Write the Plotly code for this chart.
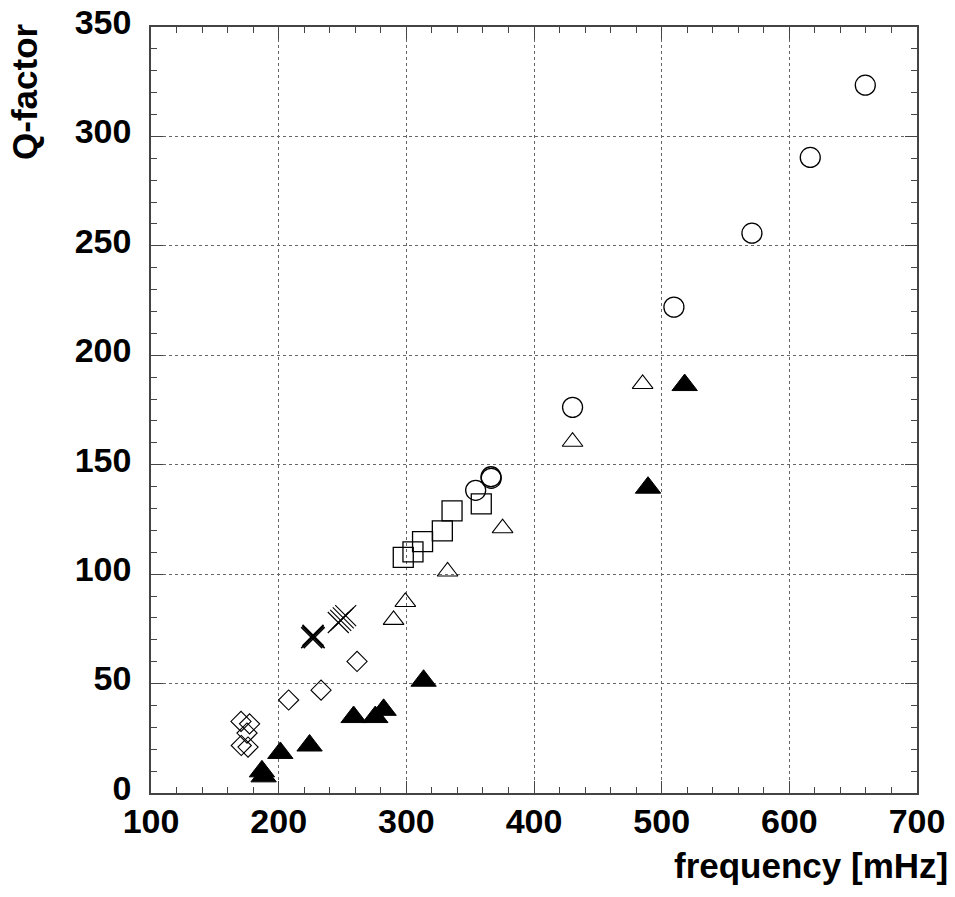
import plotly.graph_objects as go

# ---- data ----
circ_x = [659.5, 616.4, 570.7, 509.6, 430.2, 366.3, 366.5, 354.3]
circ_y = [323.4, 290.4, 255.8, 222.0, 176.2, 144.5, 143.8, 138.3]

sq_x = [358.7, 335.8, 328.2, 312.7, 305.2, 297.6]
sq_y = [132.1, 128.9, 119.8, 114.9, 110.2, 107.7]

otri_x = [485.1, 430.2, 375.4, 332.3, 299.2, 290.0]
otri_y = [186.9, 160.5, 121.0, 101.2, 87.3, 79.1]

ftri_x = [518.0, 489.3, 313.5, 282.2, 275.7, 258.7, 224.2, 201.3, 186.9, 188.2]
ftri_y = [186.4, 139.5, 51.3, 38.0, 34.7, 34.7, 21.7, 18.3, 9.9, 7.6]

dia_x = [261.4, 233.2, 207.8, 170.5, 177.2, 175.2, 170.7, 176.0]
dia_y = [60.1, 47.0, 42.5, 32.7, 31.6, 27.4, 21.7, 21.0]

xb_x = [225.9, 226.9, 227.8, 226.9]
xb_y = [71.0, 71.5, 71.0, 72.0]

xh_x = [246.7, 248.6, 250.6, 252.5]
xh_y = [77.9, 78.9, 80.0, 81.0]

x_ticks = [100, 200, 300, 400, 500, 600, 700]
y_ticks = [0, 50, 100, 150, 200, 250, 300, 350]

x_title = "frequency [mHz]"
y_title = "Q-factor"

FONT = "Liberation Sans"
BLACK = "#000000"

fig = go.Figure()

def add(xs, ys, symbol, size, lw=1.2, fill=None):
    marker = dict(symbol=symbol, size=size, line=dict(color=BLACK, width=lw))
    marker["color"] = fill if fill is not None else BLACK
    fig.add_trace(go.Scatter(x=xs, y=ys, mode="markers", marker=marker,
                             showlegend=False, hoverinfo="x+y"))

add(circ_x, circ_y, "circle-open", 20, 1.3)
add(sq_x, sq_y, "square-open", 20, 1.3)
add(otri_x, otri_y, "triangle-up-open", 18, 1.1)
add(ftri_x, ftri_y, "triangle-up", 22, 1.0, BLACK)
add(dia_x, dia_y, "diamond-open", 15.5, 1.1)
add(xb_x, xb_y, "x-thin-open", 21, 1.6)
add(xh_x, xh_y, "x-thin-open", 21, 1.1)

axis_common = dict(
    showgrid=True, gridcolor="#666666", griddash="dot", gridwidth=1,
    showline=True, linecolor="#444444", linewidth=1.5, mirror="ticks",
    ticks="inside", ticklen=12, tickcolor="#444444", tickwidth=1,
    zeroline=False, automargin=False,
    tickfont=dict(family=FONT, size=34, color=BLACK, weight="bold"),
)

fig.update_xaxes(range=[100, 700], tickvals=x_ticks,
                 ticktext=[str(v) for v in x_ticks],
                 minor=dict(dtick=20, ticks="inside", ticklen=6,
                            tickcolor="#444444", showgrid=False),
                 ticklabelstandoff=-3,
                 **axis_common)
fig.update_yaxes(range=[0, 350], tickvals=y_ticks,
                 ticktext=[str(v) for v in y_ticks],
                 minor=dict(dtick=10, ticks="inside", ticklen=6,
                            tickcolor="#444444", showgrid=False),
                 ticklabelstandoff=11, ticklabelshift=-5,
                 **axis_common)

fig.add_annotation(text=x_title, xref="paper", yref="paper",
                   x=1.0435, y=-0.0948, xanchor="right", yanchor="middle",
                   showarrow=False,
                   font=dict(family=FONT, size=35, color=BLACK, weight="bold"))
fig.add_annotation(text=y_title, xref="paper", yref="paper",
                   x=-0.1650, y=0.916, xanchor="center", yanchor="middle",
                   textangle=-90, showarrow=False,
                   font=dict(family=FONT, size=35, color=BLACK, weight="bold"))

fig.update_layout(width=955, height=897,
                  margin=dict(l=151, r=38, t=27, b=104, pad=0),
                  paper_bgcolor="white", plot_bgcolor="white")

fig.write_html("out.html")
